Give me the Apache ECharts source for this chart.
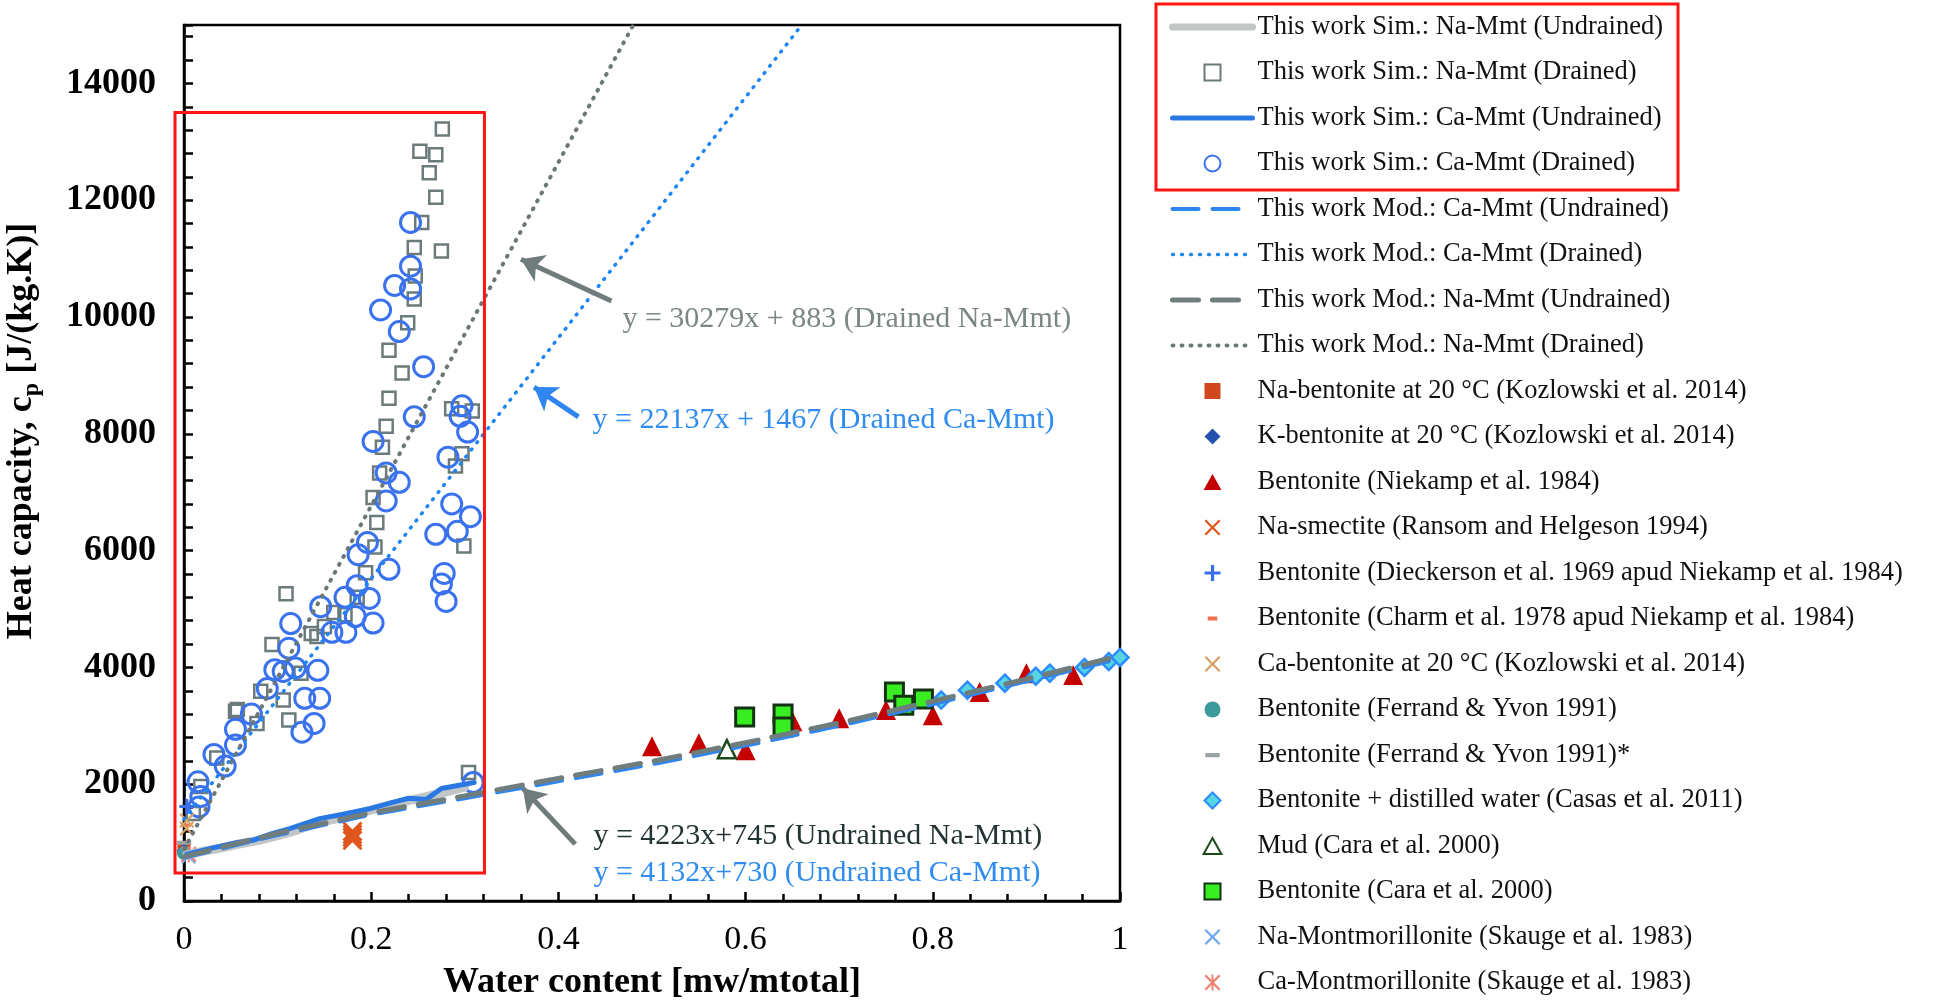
<!DOCTYPE html>
<html>
<head>
<meta charset="utf-8">
<script src="https://cdn.jsdelivr.net/npm/echarts@6.0.0/dist/echarts.min.js"></script>
<style>
html,body{margin:0;padding:0;background:#fff}
#main{width:1953px;height:1006px}
</style>
</head>
<body>
<div id="main"></div>
<script>
var FONT = 'Liberation Serif';

// axes
var xMin = 0, xMax = 1, xStep = 0.2;
var yMin = 0, yMax = 15000, yStep = 2000;

// this work, simulations
var simNaUndrained = [[0.003,790],[0.02,850],[0.04,910],[0.06,980],[0.08,1040],[0.10,1120],[0.12,1210],[0.14,1320],[0.16,1400],[0.18,1470],[0.20,1560],[0.22,1640],[0.24,1720],[0.26,1790],[0.28,1870],[0.30,1950]];
var simNaDrained = [[0.276,13220],[0.252,12840],[0.269,12780],[0.262,12470],[0.269,12050],[0.254,11620],[0.275,11130],[0.246,11190],[0.247,10700],[0.246,10310],[0.239,9900],[0.219,9430],[0.233,9040],[0.219,8610],[0.216,8130],[0.212,7770],[0.209,7330],[0.202,6910],[0.206,6480],[0.204,6060],[0.194,5620],[0.109,5260],[0.094,4390],[0.136,4580],[0.082,3590],[0.106,3440],[0.078,3040],[0.055,3250],[0.112,3100],[0.304,2200],[0.290,7450],[0.286,8430],[0.308,8390],[0.299,6080],[0.297,7660],[0.035,2450],[0.018,1960],[0.160,4940],[0.142,4530],[0.057,3280],[0.172,4900],[0.185,5200],[0.125,3900],[0.150,4700],[0.010,1500]];
var simCaUndrained = [[0.003,800],[0.031,910],[0.056,1000],[0.075,1045],[0.094,1155],[0.113,1240],[0.145,1410],[0.170,1485],[0.196,1570],[0.221,1680],[0.240,1760],[0.259,1740],[0.275,1925],[0.297,1990],[0.310,2030]];
var simCaDrained = [[0.242,11620],[0.242,10870],[0.242,10480],[0.225,10540],[0.210,10120],[0.230,9750],[0.256,9150],[0.246,8290],[0.297,8480],[0.295,8300],[0.303,8030],[0.202,7870],[0.216,7330],[0.230,7170],[0.216,6850],[0.282,7600],[0.286,6800],[0.269,6280],[0.292,6330],[0.306,6580],[0.196,6140],[0.186,5930],[0.219,5680],[0.278,5610],[0.275,5430],[0.280,5130],[0.172,5200],[0.185,5400],[0.198,5180],[0.183,4870],[0.158,4600],[0.173,4600],[0.202,4760],[0.146,5040],[0.114,4750],[0.112,4330],[0.143,3950],[0.119,3990],[0.106,3930],[0.097,3960],[0.145,3470],[0.129,3470],[0.139,3040],[0.126,2890],[0.089,3640],[0.072,3200],[0.055,2940],[0.055,2670],[0.044,2310],[0.032,2510],[0.015,2040],[0.018,1790],[0.016,1610],[0.309,2030]];

// this work, models
var modCaUndrained = [[0,740],[0.1,1130],[0.2,1480],[0.3,1760],[0.4,2050],[0.5,2340],[0.6,2660],[0.7,3000],[0.8,3370],[0.9,3760],[1.0,4150]];
var modCaDrained = [[0,1400],[0.66,15000]];
var modNaUndrained = [[0,760],[0.1,1160],[0.2,1510],[0.3,1800],[0.4,2100],[0.5,2390],[0.6,2710],[0.7,3050],[0.8,3420],[0.9,3800],[1.0,4200]];
var modNaDrained = [[0,885],[0.48,15000]];

// literature
var kozNa = [[0,900]];
var kozK = [[0,860]];
var niekamp = [[0.5,2650],[0.55,2700],[0.6,2580],[0.65,3080],[0.7,3130],[0.75,3270],[0.8,3180],[0.85,3580],[0.9,3900],[0.95,3870]];
var ransom = [[0.18,1040],[0.18,1090],[0.18,1140],[0.18,1190]];
var dieckerson = [[0.003,1620]];
var charm = [[0.003,1300]];
var kozCa = [[0.003,1380],[0.003,1240]];
var ferrand = [[0,820]];
var ferrandStar = [[0,1000]];
var casas = [[0.809,3440],[0.837,3610],[0.877,3730],[0.910,3850],[0.925,3900],[0.962,4000],[0.988,4100],[1.0,4170]];
var caraMud = [[0.58,2600]];
var caraBent = [[0.599,3150],[0.640,3200],[0.640,2980],[0.759,3580],[0.769,3350],[0.790,3460]];
var skaugeNa = [[0.005,760]];
var skaugeCa = [[0.005,800]];

// arrows and equations (data units)
var arrows = [
	[[0.4567,10274],[0.360,10990],'#707c7c'],
	[[0.4214,8291],[0.374,8800],'#2f86f0'],
	[[0.418,974],[0.362,1930],'#707c7c']
];
var notes = [
	['y = 30279x + 883 (Drained Na-Mmt)', 0.4684, 9966, '#7b8686'],
	['y = 22137x + 1467 (Drained Ca-Mmt)', 0.4364, 8239, '#2f8cf0'],
	['y = 4223x+745 (Undrained Na-Mmt)', 0.4374, 1111, '#243434'],
	['y = 4132x+730 (Undrained Ca-Mmt)', 0.4374, 479, '#2f8cf0']
];
var dataBox = [[-0.0096,13500],[0.321,480]];

// marker shapes as paths so the legend keeps their aspect
var SQUARE = 'path://M0,0H10V10H0Z';
var DIAMOND = 'path://M5,0L10,5L5,10L0,5Z';
var TRIANGLE = 'path://M5,0L10,9L0,9Z';
var X_PATH = 'path://M1,0L5,4L9,0L10,1L6,5L10,9L9,10L5,6L1,10L0,9L4,5L0,1Z';
var PLUS_PATH = 'path://M4,0H6V4H10V6H6V10H4V6H0V4H4Z';
var STAR_PATH = 'path://M1,0L5,4L9,0L10,1L6,5L10,9L9,10L5,6L1,10L0,9L4,5L0,1Z M4.4,0H5.6V10H4.4Z';
// short dashes kept inside a square box (corner points only set the box)
var SHORT_DASH = 'path://M0,0L0.01,0Z M2,3.8H8V6.2H2Z M9.99,10L10,10Z';
var LONG_DASH = 'path://M0,0L0.01,0Z M0.5,3.8H9.5V6.4H0.5Z M9.99,10L10,10Z';

function lineSeries(name, data, color, width, type) {
	return {
		name: name, type: 'line', data: data, symbol: 'none', silent: true,
		lineStyle: {color: color, width: width, type: type || 'solid', cap: 'round'},
		itemStyle: {color: color}
	};
}

function dotSeries(name, data, symbol, size, fill, border, bw) {
	return {
		name: name, type: 'scatter', data: data, symbol: symbol, symbolSize: size, silent: true,
		itemStyle: {color: fill, borderColor: border, borderWidth: bw || 0, opacity: 1}
	};
}

var series = [
	lineSeries('This work Sim.: Na-Mmt (Undrained)', simNaUndrained, '#c3c6c6', 9),
	dotSeries('This work Sim.: Na-Mmt (Drained)', simNaDrained, SQUARE, 13, 'rgba(255,255,255,0)', '#6b7b7b', 2.5),
	lineSeries('This work Sim.: Ca-Mmt (Undrained)', simCaUndrained, '#2a78e4', 5),
	dotSeries('This work Sim.: Ca-Mmt (Drained)', simCaDrained, 'circle', 20, 'rgba(255,255,255,0)', '#3a72ee', 3),
	lineSeries('This work Mod.: Ca-Mmt (Undrained)', modCaUndrained, '#2f86f0', 4, [26, 14]),
	lineSeries('This work Mod.: Ca-Mmt (Drained)', modCaDrained, '#1e86f2', 3.5, [1, 8]),
	lineSeries('This work Mod.: Na-Mmt (Undrained)', modNaUndrained, '#6f7d7d', 5, [26, 14]),
	lineSeries('This work Mod.: Na-Mmt (Drained)', modNaDrained, '#6c7878', 4, [1, 8]),
	dotSeries('Na-bentonite at 20 °C (Kozlowski et al. 2014)', kozNa, SQUARE, 13, '#d0481e'),
	dotSeries('K-bentonite at 20 °C (Kozlowski et al. 2014)', kozK, DIAMOND, 15, '#2450b0'),
	dotSeries('Bentonite (Niekamp et al. 1984)', niekamp, TRIANGLE, 20, '#c40000'),
	dotSeries('Na-smectite (Ransom and Helgeson 1994)', ransom, X_PATH, 20, '#e0561c'),
	dotSeries('Bentonite (Dieckerson et al. 1969 apud Niekamp et al. 1984)', dieckerson, PLUS_PATH, 15, '#3a6ee8'),
	dotSeries('Bentonite (Charm et al. 1978 apud Niekamp et al. 1984)', charm, SHORT_DASH, 14, '#f07050'),
	dotSeries('Ca-bentonite at 20 °C (Kozlowski et al. 2014)', kozCa, X_PATH, 15, '#d9a064'),
	dotSeries('Bentonite (Ferrand & Yvon 1991)', ferrand, 'circle', 14, '#3c9a9c'),
	dotSeries('Bentonite (Ferrand & Yvon 1991)*', ferrandStar, LONG_DASH, 16, '#9aa4a4'),
	dotSeries('Bentonite + distilled water (Casas et al. 2011)', casas, DIAMOND, 17, '#56d6e2', '#2a8cff', 2.5),
	dotSeries('Mud (Cara et al. 2000)', caraMud, TRIANGLE, 18, 'rgba(255,255,255,0)', '#1c4a1c', 2.5),
	dotSeries('Bentonite (Cara et al. 2000)', caraBent, SQUARE, 18, '#38ee22', '#133313', 3),
	dotSeries('Na-Montmorillonite (Skauge et al. 1983)', skaugeNa, X_PATH, 15, '#6fa8f0'),
	dotSeries('Ca-Montmorillonite (Skauge et al. 1983)', skaugeCa, STAR_PATH, 16, '#f08070')
];

// arrows hang on the last model line
var arrowLines = [];
for (var i = 0; i < arrows.length; i++) {
	arrowLines.push([
		{coord: arrows[i][0], lineStyle: {color: arrows[i][2], width: 5, type: 'solid'}, itemStyle: {color: arrows[i][2]}},
		{coord: arrows[i][1]}
	]);
}
series[7].markLine = {
	silent: true, animation: false,
	symbol: ['none', 'arrow'], symbolSize: 22,
	label: {show: false},
	data: arrowLines
};

// legend icons: keep line widths, no dot on the lines
var legendData = [];
for (var j = 0; j < series.length; j++) {
	var s = series[j];
	var item = {name: s.name};
	if (s.type === 'line') {
		item.lineStyle = {width: Math.min(s.lineStyle.width, 7), type: s.lineStyle.type, color: s.lineStyle.color, cap: 'round'};
		item.itemStyle = {opacity: 0};
	}
	legendData.push(item);
}

var myChart = echarts.init(document.getElementById('main'));
var option = {
	animation: false,
	backgroundColor: '#ffffff',
	grid: {left: 184, right: 833, top: 25, bottom: 104, show: true, borderColor: '#000', borderWidth: 2.5},
	legend: {
		orient: 'vertical', left: 1169, top: 12, padding: 0,
		itemWidth: 80, itemHeight: 16, itemGap: 15.5,
		selectedMode: false,
		textStyle: {fontFamily: FONT, fontSize: 26.5, color: '#111', lineHeight: 30, height: 30},
		data: legendData
	},
	xAxis: {
		type: 'value', min: xMin, max: xMax, interval: xStep,
		name: 'Water content [mw/mtotal]', nameLocation: 'middle', nameGap: 64,
		nameTextStyle: {fontFamily: FONT, fontSize: 36, fontWeight: 'bold', color: '#000'},
		axisLine: {lineStyle: {color: '#000', width: 2.5}},
		axisTick: {inside: true, length: 9, lineStyle: {color: '#000', width: 2.5}},
		minorTick: {show: true, splitNumber: 5, length: 7, lineStyle: {color: '#000', width: 2.5}},
		axisLabel: {fontFamily: FONT, fontSize: 34, color: '#000', margin: 22},
		splitLine: {show: false}
	},
	yAxis: {
		type: 'value', min: yMin, max: yMax, interval: yStep,
		axisLine: {lineStyle: {color: '#000', width: 2.5}},
		axisTick: {inside: true, length: 9, lineStyle: {color: '#000', width: 2.5}},
		minorTick: {show: true, splitNumber: 5, length: 9, lineStyle: {color: '#000', width: 2.5}},
		axisLabel: {
			fontFamily: FONT, fontSize: 36, fontWeight: 'bold', color: '#000', margin: 28, showMaxLabel: false,
			formatter: function (v) { return String(v); }
		},
		splitLine: {show: false}
	},
	series: series
};
myChart.setOption(option);

// red boxes, y title and equations
function px(p) {
	return myChart.convertToPixel({gridIndex: 0}, p);
}
var b0 = px(dataBox[0]);
var b1 = px(dataBox[1]);
var graphics = [
	{type: 'rect', silent: true, z: 100,
		shape: {x: b0[0], y: b0[1], width: b1[0] - b0[0], height: b1[1] - b0[1]},
		style: {fill: 'none', stroke: '#ff1414', lineWidth: 3}},
	{type: 'rect', silent: true, z: 100,
		shape: {x: 1156, y: 4, width: 522, height: 186},
		style: {fill: 'none', stroke: '#ff1414', lineWidth: 3}},
	{type: 'text', silent: true, x: 22, y: 431, rotation: Math.PI / 2,
		style: {
			text: 'Heat capacity, c{p|p} [J/(kg.K)]',
			fontFamily: FONT, fontSize: 36, fontWeight: 'bold', fill: '#000',
			align: 'center', verticalAlign: 'middle', lineHeight: 44,
			rich: {p: {fontFamily: FONT, fontSize: 24, fontWeight: 'bold', fill: '#000', verticalAlign: 'bottom', lineHeight: 44}}
		}}
];
for (var k = 0; k < notes.length; k++) {
	var p = px([notes[k][1], notes[k][2]]);
	graphics.push({type: 'text', silent: true, x: p[0], y: p[1],
		style: {text: notes[k][0], fontFamily: FONT, fontSize: 30, fill: notes[k][3], align: 'left', verticalAlign: 'middle'}});
}
myChart.setOption({graphic: graphics});
</script>
</body>
</html>
